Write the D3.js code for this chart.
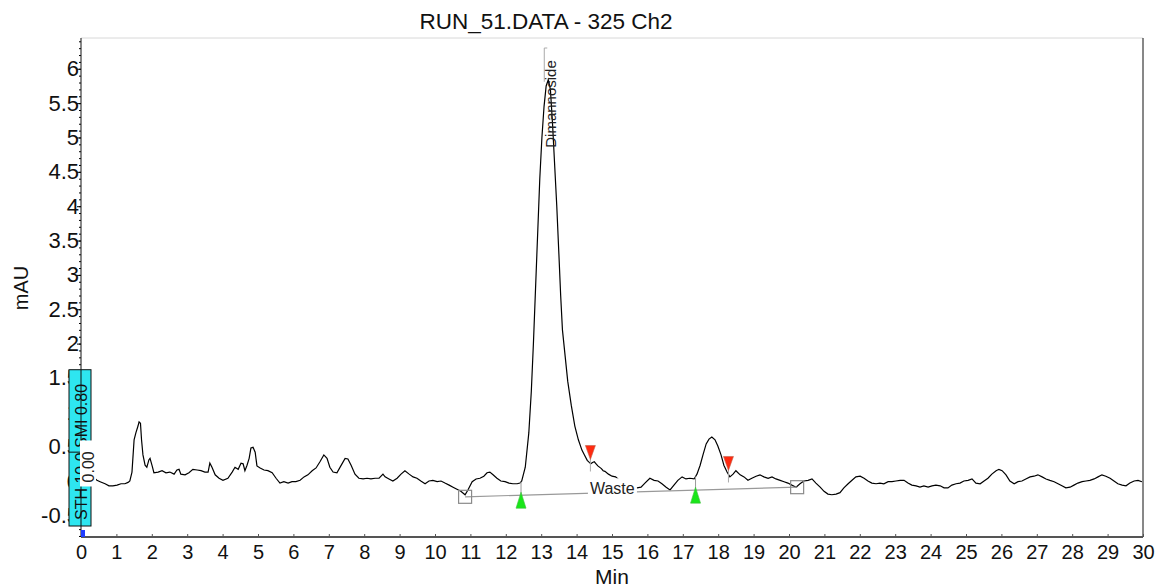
<!DOCTYPE html>
<html>
<head>
<meta charset="utf-8">
<script src="https://cdn.jsdelivr.net/npm/d3@7"></script>
<style>
body { margin: 0; background: #fff; }
text { font-family: "Liberation Sans", Arial, sans-serif; }
</style>
</head>
<body>
<script>
var width = 1158, height = 588;
var margin = {top: 38, right: 15, bottom: 51, left: 81};

// chromatogram trace: time (min) and signal (mAU)
var times = [0.34, 0.45, 0.54, 0.68, 0.79, 0.90, 1.02, 1.13, 1.24, 1.33, 1.38, 1.44, 1.50, 1.55, 1.61, 1.64, 1.68, 1.71, 1.75, 1.81,
  1.86, 1.92, 1.95, 2.01, 2.06, 2.18, 2.29, 2.40, 2.51, 2.63, 2.71, 2.77, 2.82, 2.94, 3.05, 3.16, 3.28, 3.39, 3.50, 3.59,
  3.64, 3.70, 3.79, 3.90, 4.01, 4.15, 4.27, 4.35, 4.44, 4.52, 4.58, 4.63, 4.69, 4.75, 4.80, 4.86, 4.92, 4.97, 5.06, 5.17,
  5.28, 5.40, 5.51, 5.62, 5.73, 5.85, 5.96, 6.07, 6.19, 6.30, 6.41, 6.53, 6.64, 6.75, 6.86, 6.95, 7.03, 7.12, 7.23, 7.34,
  7.46, 7.54, 7.63, 7.74, 7.85, 7.97, 8.08, 8.19, 8.31, 8.42, 8.53, 8.59, 8.70, 8.81, 8.93, 9.04, 9.15, 9.27, 9.38, 9.49,
  9.60, 9.72, 9.83, 9.94, 10.06, 10.17, 10.28, 10.40, 10.51, 10.62, 10.73, 10.85, 10.93, 11.05, 11.16, 11.27, 11.38, 11.47, 11.55, 11.64,
  11.75, 11.86, 11.98, 12.09, 12.20, 12.32, 12.40, 12.45, 12.55, 12.65, 12.72, 12.78, 12.84, 12.90, 12.96, 13.02, 13.08, 13.14, 13.20, 13.26,
  13.32, 13.38, 13.44, 13.50, 13.55, 13.60, 13.68, 13.75, 13.85, 13.95, 14.05, 14.15, 14.20, 14.30, 14.40, 14.45, 14.50, 14.55, 14.60, 14.70,
  14.75, 14.80, 14.90, 15.00, 15.10, 15.30, 15.50, 15.71, 15.82, 15.93, 16.07, 16.19, 16.30, 16.41, 16.53, 16.64, 16.75, 16.86, 16.98, 17.09,
  17.20, 17.32, 17.40, 17.49, 17.57, 17.66, 17.74, 17.82, 17.91, 17.99, 18.08, 18.16, 18.25, 18.33, 18.42, 18.50, 18.62, 18.73, 18.84, 18.95,
  19.07, 19.18, 19.29, 19.41, 19.52, 19.63, 19.75, 19.86, 19.97, 20.08, 20.20, 20.31, 20.42, 20.54, 20.65, 20.76, 20.88, 20.99, 21.10, 21.21,
  21.33, 21.44, 21.55, 21.67, 21.78, 21.89, 22.01, 22.12, 22.23, 22.34, 22.46, 22.57, 22.68, 22.80, 22.91, 23.02, 23.14, 23.25, 23.36, 23.47,
  23.59, 23.70, 23.81, 23.93, 24.04, 24.15, 24.27, 24.38, 24.49, 24.60, 24.72, 24.83, 24.94, 25.06, 25.17, 25.28, 25.40, 25.51, 25.62, 25.73,
  25.85, 25.93, 26.02, 26.13, 26.24, 26.36, 26.47, 26.58, 26.69, 26.81, 26.92, 27.03, 27.15, 27.26, 27.37, 27.49, 27.60, 27.71, 27.82, 27.94,
  28.05, 28.16, 28.28, 28.39, 28.50, 28.62, 28.73, 28.84, 28.95, 29.07, 29.18, 29.29, 29.41, 29.52, 29.63, 29.75, 29.86, 29.97];
var mau = [0.06, 0.01, -0.01, -0.04, -0.07, -0.07, -0.06, -0.04, -0.04, -0.02, 0.00, 0.13, 0.60, 0.70, 0.80, 0.86, 0.84, 0.60, 0.38, 0.23,
  0.20, 0.31, 0.33, 0.22, 0.12, 0.13, 0.15, 0.12, 0.13, 0.10, 0.16, 0.17, 0.10, 0.09, 0.12, 0.17, 0.16, 0.15, 0.13, 0.13,
  0.26, 0.20, 0.09, 0.04, 0.01, 0.04, 0.13, 0.20, 0.17, 0.26, 0.25, 0.15, 0.23, 0.33, 0.48, 0.49, 0.42, 0.22, 0.19, 0.16,
  0.15, 0.12, 0.04, -0.03, -0.01, -0.03, -0.01, -0.01, 0.01, 0.06, 0.09, 0.15, 0.19, 0.28, 0.38, 0.33, 0.20, 0.13, 0.12, 0.22,
  0.33, 0.32, 0.23, 0.10, 0.04, 0.03, 0.04, 0.03, 0.04, 0.04, 0.10, 0.06, 0.03, 0.00, 0.04, 0.10, 0.15, 0.10, 0.06, 0.04,
  0.00, -0.04, 0.00, 0.01, -0.01, 0.00, -0.03, -0.06, -0.09, -0.12, -0.15, -0.20, -0.13, -0.01, 0.03, 0.04, 0.07, 0.12, 0.13, 0.09,
  0.04, 0.00, -0.01, -0.03, -0.04, -0.04, -0.03, 0.00, 0.20, 0.70, 1.30, 2.00, 2.80, 3.60, 4.40, 5.00, 5.45, 5.75, 5.84, 5.70,
  5.20, 4.60, 4.00, 3.30, 2.70, 2.20, 1.80, 1.45, 1.10, 0.80, 0.60, 0.45, 0.40, 0.30, 0.25, 0.27, 0.28, 0.25, 0.22, 0.18,
  0.15, 0.14, 0.10, 0.07, 0.06, -0.03, -0.08, -0.10, -0.09, -0.03, 0.04, 0.01, 0.00, -0.04, -0.09, -0.13, -0.06, 0.01, 0.06, 0.03,
  0.04, 0.03, 0.10, 0.23, 0.38, 0.54, 0.61, 0.64, 0.60, 0.51, 0.38, 0.23, 0.13, 0.06, 0.10, 0.15, 0.09, 0.06, 0.01, 0.04,
  0.07, 0.09, 0.06, 0.04, 0.06, 0.03, 0.01, -0.01, -0.03, -0.06, -0.09, -0.04, 0.00, 0.01, 0.03, -0.03, -0.09, -0.15, -0.19, -0.20,
  -0.19, -0.17, -0.10, -0.04, 0.01, 0.06, 0.07, 0.04, 0.00, -0.03, -0.04, -0.03, -0.04, -0.01, -0.01, 0.00, 0.01, 0.01, -0.03, -0.06,
  -0.07, -0.09, -0.07, -0.09, -0.07, -0.06, -0.07, -0.10, -0.10, -0.06, -0.04, -0.03, 0.00, 0.01, 0.03, -0.03, -0.04, 0.00, 0.04, 0.10,
  0.15, 0.17, 0.15, 0.09, 0.00, -0.04, -0.01, 0.00, 0.03, 0.06, 0.07, 0.09, 0.06, 0.03, 0.01, -0.01, -0.04, -0.07, -0.10, -0.09,
  -0.06, -0.03, -0.01, 0.00, 0.01, 0.03, 0.06, 0.09, 0.07, 0.04, 0.00, -0.04, -0.06, -0.07, -0.03, 0.00, 0.01, -0.01];

var xTicks = [0, 1, 2, 3, 4, 5, 6, 7, 8, 9, 10, 11, 12, 13, 14, 15, 16, 17, 18, 19, 20, 21, 22, 23, 24, 25, 26, 27, 28, 29, 30];
var yTicks = [-0.5, 0, 0.5, 1, 1.5, 2, 2.5, 3, 3.5, 4, 4.5, 5, 5.5, 6];

// integration events
var peakStarts = [12.43, 17.36];
var peakEnds = [14.39, 18.29];
var baseTimes = [10.85, 20.23];
var baseValues = [-0.23, -0.09];
var peakName = "Dimannoside", peakTime = 13.2;
var groupName = "Waste", groupTime = 14.32;

var svg = d3.select("body").append("svg")
  .attr("width", width)
  .attr("height", height);

var x = d3.scaleLinear().domain([0, 30]).range([margin.left, width - margin.right]);
var y = d3.scaleLinear().domain([-0.815, 6.448]).range([height - margin.bottom, margin.top]);

function traceAt(t) {
  var i = d3.bisectLeft(times, t);
  if (i <= 0) return mau[0];
  if (i >= times.length) return mau[mau.length - 1];
  var f = (t - times[i - 1]) / (times[i] - times[i - 1]);
  return mau[i - 1] + f * (mau[i] - mau[i - 1]);
}
function baseAt(t) {
  var f = (t - baseTimes[0]) / (baseTimes[1] - baseTimes[0]);
  return baseValues[0] + f * (baseValues[1] - baseValues[0]);
}

// title and axis names
svg.append("text").attr("x", 546).attr("y", 29)
  .attr("text-anchor", "middle").attr("font-size", 22.5).attr("fill", "#111")
  .text("RUN_51.DATA - 325 Ch2");
svg.append("text").attr("transform", "translate(28,288) rotate(-90)")
  .attr("text-anchor", "middle").attr("font-size", 20).attr("fill", "#111")
  .text("mAU");
svg.append("text").attr("x", x(15)).attr("y", 584)
  .attr("text-anchor", "middle").attr("font-size", 21).attr("fill", "#111")
  .text("Min");

// frame
svg.append("line").attr("x1", x(0)).attr("x2", x(30)).attr("y1", margin.top).attr("y2", margin.top)
  .attr("stroke", "#d8d8d8");
svg.append("line").attr("x1", x(30)).attr("x2", x(30)).attr("y1", margin.top).attr("y2", height - margin.bottom)
  .attr("stroke", "#111");

// y axis
var yMinor = d3.axisLeft(y).tickValues(d3.range(-8, 65).map(function(d) { return d / 10; }))
  .tickSize(2).tickFormat("");
svg.append("g").attr("transform", "translate(" + margin.left + ",0)").call(yMinor)
  .call(function(g) { g.select(".domain").remove(); });
var yAxis = d3.axisLeft(y).tickValues(yTicks).tickSize(4)
  .tickFormat(function(d) { return String(d); });
var yg = svg.append("g").attr("transform", "translate(" + margin.left + ",0)").call(yAxis);
yg.select(".domain").remove();
yg.selectAll("text").attr("x", -2).attr("font-size", 22).attr("fill", "#111")
  .attr("font-family", "Liberation Sans, Arial, sans-serif");

// x axis
var xAxis = d3.axisBottom(x).tickValues(xTicks).tickSize(-3).tickPadding(8);
var xg = svg.append("g").attr("transform", "translate(0," + (height - margin.bottom) + ")").call(xAxis);
xg.select(".domain").remove();
xg.selectAll("line").attr("stroke", "#555");
xg.selectAll("text").attr("font-size", 20).attr("fill", "#111")
  .attr("font-family", "Liberation Sans, Arial, sans-serif");
svg.append("line").attr("x1", x(0)).attr("x2", x(30))
  .attr("y1", height - margin.bottom).attr("y2", height - margin.bottom)
  .attr("stroke", "#555").attr("stroke-width", 2);

// trace
var line = d3.line()
  .x(function(d, i) { return x(times[i]); })
  .y(function(d) { return y(d); });
svg.append("path").datum(mau)
  .attr("d", line)
  .attr("fill", "none")
  .attr("stroke", "#000")
  .attr("stroke-width", 1.2);

// baseline and its end boxes
svg.append("line")
  .attr("x1", x(baseTimes[0])).attr("y1", y(baseValues[0]))
  .attr("x2", x(baseTimes[1])).attr("y2", y(baseValues[1]))
  .attr("stroke", "#999").attr("stroke-width", 1.2);
svg.selectAll(".bbox").data(baseTimes).enter().append("rect")
  .attr("class", "bbox")
  .attr("x", function(d) { return x(d) - 6.5; })
  .attr("y", function(d, i) { return y(baseValues[i]) - 6.5; })
  .attr("width", 13).attr("height", 13)
  .attr("fill", "none").attr("stroke", "#8a8a8a").attr("stroke-width", 1.2);

// peak start markers (green, up)
var starts = svg.selectAll(".pstart").data(peakStarts).enter().append("g").attr("class", "pstart");
starts.append("line")
  .attr("x1", function(d) { return x(d); }).attr("x2", function(d) { return x(d); })
  .attr("y1", function(d) { return y(traceAt(d)); })
  .attr("y2", function(d) { return y(baseAt(d)) + 4; })
  .attr("stroke", "#999");
starts.append("path")
  .attr("d", function(d) {
    var cx = x(d), ty = y(baseAt(d)) - 3;
    return "M" + cx + "," + ty + "L" + (cx + 5) + "," + (ty + 16) + "L" + (cx - 5) + "," + (ty + 16) + "Z";
  })
  .attr("fill", "#19e619").attr("stroke", "#3cbf3c").attr("stroke-width", 0.6);

// peak end markers (red, down)
var ends = svg.selectAll(".pend").data(peakEnds).enter().append("g").attr("class", "pend");
ends.append("line")
  .attr("x1", function(d) { return x(d); }).attr("x2", function(d) { return x(d); })
  .attr("y1", function(d) { return y(traceAt(d)) - 10; })
  .attr("y2", function(d) { return y(traceAt(d)) + 8; })
  .attr("stroke", "#aaa");
ends.append("path")
  .attr("d", function(d) {
    var cx = x(d), ty = y(traceAt(d)) - 4;
    return "M" + cx + "," + ty + "L" + (cx + 5) + "," + (ty - 14) + "L" + (cx - 5) + "," + (ty - 14) + "Z";
  })
  .attr("fill", "#ff2a10").attr("stroke", "#c0604a").attr("stroke-width", 0.6);

// peak name with leader
var topY = y(d3.max(mau));
svg.append("path")
  .attr("d", "M" + (x(peakTime) - 4) + "," + (topY + 2) + "V" + (margin.top + 10) + "h3")
  .attr("fill", "none").attr("stroke", "#aaa");
svg.append("text")
  .attr("transform", "translate(" + (x(peakTime) + 8) + "," + (topY + 68) + ") rotate(-90)")
  .attr("font-size", 15).attr("fill", "#222")
  .text(peakName);

// group label
var gx = x(groupTime), gy = y(baseAt(groupTime));
svg.append("rect").attr("x", gx).attr("y", gy - 15).attr("width", 49).attr("height", 19).attr("fill", "#fff");
svg.append("text").attr("x", gx + 2).attr("y", gy + 1)
  .attr("font-size", 16).attr("fill", "#222").text(groupName);

// time-program box at zero
svg.append("rect")
  .attr("x", x(0) - 12).attr("y", y(1.62))
  .attr("width", 22).attr("height", y(-0.655) - y(1.62))
  .attr("fill", "#2ee6f0").attr("stroke", "#111").attr("stroke-width", 1);
svg.append("text")
  .attr("transform", "translate(" + (x(0) + 6) + "," + (y(-0.655) - 6) + ") rotate(-90)")
  .attr("font-size", 16).attr("fill", "#111")
  .text("STH 10.0  SMI 0.80");
svg.append("line").attr("x1", x(0)).attr("x2", x(0))
  .attr("y1", margin.top).attr("y2", height - margin.bottom)
  .attr("stroke", "#111");
svg.append("line").attr("x1", x(0) - 12).attr("x2", x(0))
  .attr("y1", y(0.42)).attr("y2", y(0.42))
  .attr("stroke", "#111");
svg.append("rect").attr("x", x(0) - 1).attr("y", y(0.59)).attr("width", 16).attr("height", 46).attr("fill", "#fff");
svg.append("text")
  .attr("transform", "translate(" + (x(0) + 13) + "," + (y(-0.02)) + ") rotate(-90)")
  .attr("font-size", 16).attr("fill", "#222")
  .text("0.00");
svg.append("rect").attr("x", x(0)).attr("y", height - margin.bottom - 7)
  .attr("width", 4).attr("height", 7).attr("fill", "#1f3cff");
</script>
</body>
</html>
